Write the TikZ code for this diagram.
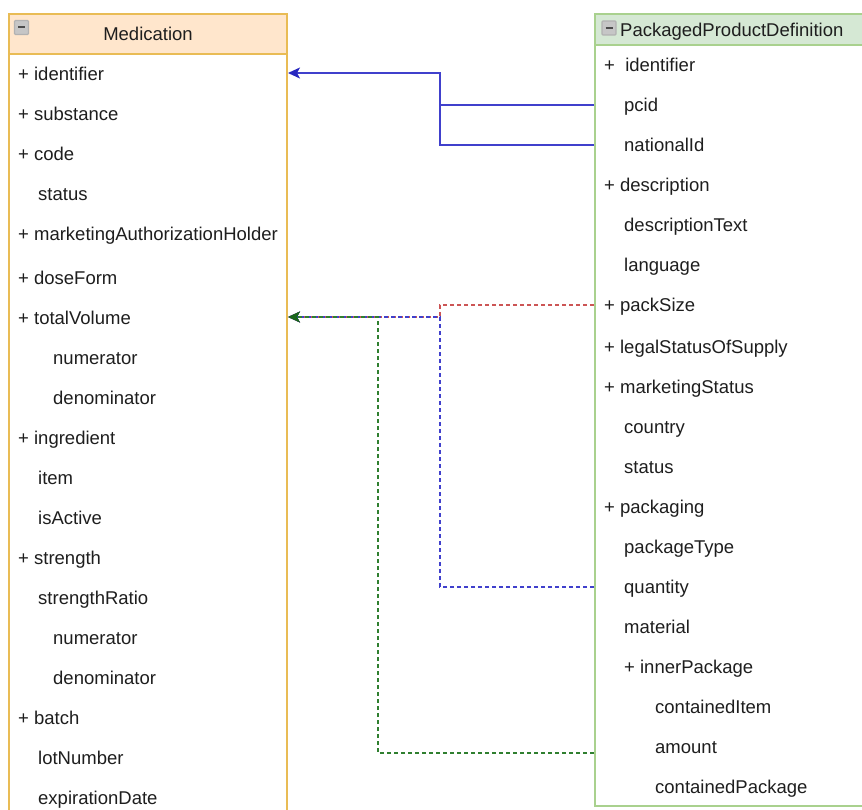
\documentclass[tikz,border=0pt]{standalone}
\usepackage{fontspec}
\setmainfont{Liberation Sans}
\usetikzlibrary{arrows.meta}

\definecolor{medline}{HTML}{E9BC55}
\definecolor{medfill}{HTML}{FFE6CC}
\definecolor{ppdline}{HTML}{A9D18E}
\definecolor{ppdfill}{HTML}{D5E8D4}
\definecolor{linkblue}{HTML}{4040CC}
\definecolor{tipblue}{HTML}{2828C0}
\definecolor{linkred}{HTML}{CC5555}
\definecolor{linkgreen}{HTML}{2F7F2F}
\definecolor{tipgreen}{HTML}{1A661A}
\definecolor{rowtext}{HTML}{1E1E1E}

\begin{document}
\begin{tikzpicture}[x=1pt,y=-1pt,
  font=\fontsize{18.5}{22}\selectfont,
  row/.style={anchor=west, inner sep=0pt, text height=13pt, text depth=0pt, text=rowtext, yshift=-0.8pt},
  classbox/.style={anchor=north west, inner sep=0pt, line width=2pt, fill=white},
  toggle/.style={draw=gray!60, fill=gray!45, line width=1.2pt, minimum size=14pt, inner sep=0pt,
    rounded corners=1pt,
    path picture={\draw[black!70, line width=2pt]
      ([xshift=3.5pt]path picture bounding box.west) -- ([xshift=-3.5pt]path picture bounding box.east);}},
  link/.style={line width=1.5pt},
  dashlink/.style={line width=1.5pt, dash pattern=on 4pt off 3pt},
  bluetip/.style={-{Stealth[length=12pt, width=11pt, inset=3pt, color=tipblue]}},
  redtip/.style={-{Stealth[length=12pt, width=11pt, inset=3pt]}},
  greentip/.style={-{Stealth[length=12pt, width=11pt, inset=3pt, color=tipgreen]}}
]
\useasboundingbox (0,0) rectangle (862,810);
\clip (0,0) rectangle (862,810);

% Medication class box
\node[classbox, draw=medline, minimum width=278pt, minimum height=840pt] (med) at (8,13) {};
\node[classbox, draw=medline, fill=medfill, minimum width=278pt, minimum height=40pt,
      text=rowtext] (medtitle) at (8,13) {Medication};
\node[toggle] (medtoggle) at (21.5,27.5) {};

% PackagedProductDefinition class box
\node[classbox, draw=ppdline, minimum width=300pt, minimum height=792pt] (ppd) at (594,13) {};
\node[classbox, draw=ppdline, fill=ppdfill, minimum width=300pt, minimum height=31pt] (ppdtitle) at (594,13) {};
\node[toggle] (ppdtoggle) at (609,28) {};
\node[row] (ppdname) at (620,29) {PackagedProductDefinition};

% Medication attributes
\foreach \n/\y/\x/\t in {
  1/73/18/{+ identifier}, 2/113/18/{+ substance}, 3/153/18/{+ code},
  4/193/38/{status}, 5/233/18/{+ marketingAuthorizationHolder},
  6/277/18/{+ doseForm}, 7/317/18/{+ totalVolume}, 8/357/53/{numerator},
  9/397/53/{denominator}, 10/437/18/{+ ingredient}, 11/477/38/{item},
  12/517/38/{isActive}, 13/557/18/{+ strength}, 14/597/38/{strengthRatio},
  15/637/53/{numerator}, 16/677/53/{denominator}, 17/717/18/{+ batch},
  18/757/38/{lotNumber}, 19/797/38/{expirationDate}}
  \node[row] (m\n) at (\x,\y) {\t};

% PackagedProductDefinition attributes
\foreach \n/\y/\x/\t in {
  1/64/604/{+~~identifier}, 2/104/624/{pcid}, 3/144/624/{nationalId},
  4/184/604/{+ description}, 5/224/624/{descriptionText}, 6/264/624/{language},
  7/304/604/{+ packSize}, 8/346/604/{+ legalStatusOfSupply},
  9/386/604/{+ marketingStatus}, 10/426/624/{country}, 11/466/624/{status},
  12/506/604/{+ packaging}, 13/546/624/{packageType}, 14/586/624/{quantity},
  15/626/624/{material}, 16/666/624/{+ innerPackage}, 17/706/655/{containedItem},
  18/746/655/{amount}, 19/786/655/{containedPackage}}
  \node[row] (p\n) at (\x,\y) {\t};

% routing columns and free connector end
\coordinate (bluebus) at (440,0);
\coordinate (greenbus) at (378,0);
\coordinate (greenend) at (594,753);
\coordinate (idrow) at (0,73);
\coordinate (volrow) at (0,317);

% identifiers
\draw[link, linkblue, bluetip] (ppd.west |- p2) -| (bluebus |- idrow) -- (med.east |- idrow);
\draw[link, linkblue] (ppd.west |- p3) -| (bluebus |- p2);

% volume references
\draw[dashlink, linkred, redtip] (ppd.west |- p7) -| (bluebus |- volrow) -- (med.east |- volrow);
\draw[dashlink, linkblue, bluetip] (ppd.west |- p14) -| (bluebus |- volrow) -- (med.east |- volrow);
\draw[dashlink, linkgreen, greentip] (greenend) -| (greenbus |- volrow) -- (med.east |- volrow);
\end{tikzpicture}
\end{document}
